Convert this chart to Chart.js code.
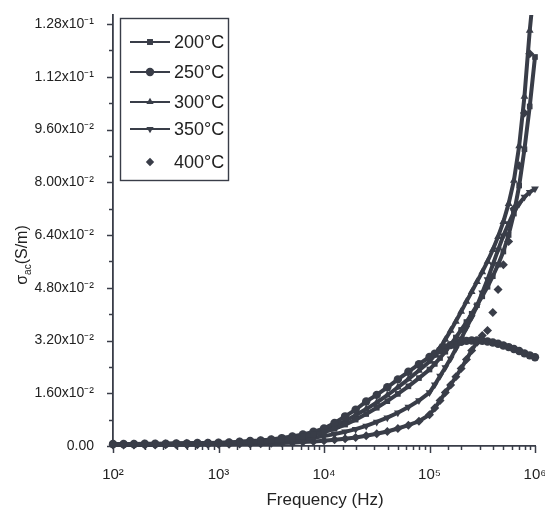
<!DOCTYPE html>
<html>
<head>
<meta charset="utf-8">
<script src="https://cdn.jsdelivr.net/npm/chart.js@4.4.1/dist/chart.umd.min.js"></script>
<style>
html,body{margin:0;padding:0;background:#fff;}
#wrap{width:545px;height:513px;}
</style>
</head>
<body>
<div id="wrap"><canvas id="c" width="545" height="513"></canvas></div>
<script>
// Frequency (Hz)
const freqs = [100,126,158,200,251,316,398,501,631,794,
  1000,1259,1585,1995,2512,3162,3981,5012,6310,7943,
  10000,12589,15849,19953,25119,31623,39811,50119,63096,79433,
  100000,112202,125893,141254,158489,177828,199526,223872,251189,281838,
  316228,354813,398107,446684,501187,562341,630957,707946,794328,891251,1000000];

// sigma_ac in units of 10^-3 S/m
const s200 = [0.5,0.5,0.5,0.5,0.6,0.6,0.6,0.7,0.7,0.8,
  0.8,0.9,1.0,1.2,1.4,1.6,1.9,2.3,2.8,3.4,
  4.2,5.2,6.5,8.0,9.7,11.6,13.6,15.8,18.1,20.6,
  23.2,24.9,26.7,28.6,30.7,32.9,35.2,37.6,40.1,42.7,
  45.4,48.3,51.5,55.0,59.0,64.0,70.5,79.0,90.0,103.0,118.0];
const s250 = [0.6,0.6,0.6,0.7,0.7,0.7,0.8,0.8,0.9,0.9,
  1.0,1.1,1.3,1.5,1.7,2.0,2.4,2.9,3.5,4.3,
  5.3,7.0,9.0,11.0,13.5,15.5,17.8,20.2,22.5,24.8,
  27.0,28.0,29.0,29.9,30.6,31.2,31.6,31.9,32.0,32.0,
  31.9,31.7,31.4,31.0,30.5,30.0,29.4,28.8,28.1,27.5,26.9];
const s300 = [0.5,0.5,0.6,0.6,0.6,0.7,0.7,0.8,0.8,0.9,
  0.9,1.0,1.2,1.4,1.6,1.9,2.2,2.7,3.3,4.0,
  4.9,6.1,7.6,9.3,11.2,13.2,15.4,17.8,20.3,22.9,
  25.6,27.6,29.8,32.3,35.0,37.8,40.8,43.8,46.8,49.8,
  52.8,56.0,59.5,63.5,68.0,73.5,80.5,91.0,106.0,126.0,142.0];
const s350 = [0.4,0.4,0.4,0.5,0.5,0.5,0.5,0.6,0.6,0.6,
  0.7,0.8,0.9,1.0,1.1,1.3,1.5,1.8,2.1,2.5,
  3.0,3.6,4.3,5.1,6.1,7.3,8.6,10.1,11.8,13.8,
  16.2,18.6,21.2,23.8,26.5,29.5,32.5,35.8,39.0,42.5,
  46.5,50.5,55.0,59.5,63.8,67.5,71.0,73.5,75.5,77.0,78.0];
const s400 = [0.3,0.3,0.3,0.3,0.3,0.4,0.4,0.4,0.4,0.5,
  0.5,0.5,0.6,0.6,0.7,0.8,0.9,1.0,1.2,1.4,
  1.6,1.9,2.2,2.6,3.1,3.7,4.4,5.3,6.3,7.5,
  9.5,11.5,13.8,16.2,18.5,21.0,23.5,26.2,29.0,31.5,
  33.5,35.0,40.5,47.5,55.0,62.0,72.0,85.0,101.0,119.0,134.0];

const seriesNames = ['200°C','250°C','300°C','350°C','400°C'];
const xTickLabels = ['10²','10³','10⁴','10⁵','10⁶'];
const yTickValues = [0,0.008,0.016,0.024,0.032,0.040,0.048,0.056,0.064,0.072,0.080,0.088,0.096,0.104,0.112,0.120,0.128];
const yTickLabels = ['0.00','1.60x10⁻²','3.20x10⁻²','4.80x10⁻²','6.40x10⁻²','8.00x10⁻²','9.60x10⁻²','1.12x10⁻¹','1.28x10⁻¹'];
const xTitle = 'Frequency (Hz)';

const INK = '#393d48';
const TXT = '#222222';
const FONT = '"Liberation Sans Narrow", "Liberation Sans", Arial, sans-serif';

const styles = [
  {pointStyle:'rect', rotation:0, line:true, r:4},
  {pointStyle:'circle', rotation:0, line:true, r:4.2},
  {pointStyle:'triangle', rotation:0, line:true, r:4.5},
  {pointStyle:'triangle', rotation:180, line:true, r:4.5},
  {pointStyle:'rectRot', rotation:0, line:false, r:4.5}
];
const allSeries = [s200,s250,s300,s350,s400];

const datasets = allSeries.map((s,k)=>({
  label: seriesNames[k],
  data: freqs.map((f,i)=>({x:f, y:s[i]/1000})),
  borderColor: INK,
  backgroundColor: INK,
  borderWidth: 4,
  showLine: true,
  segment: styles[k].line ? undefined : {
    borderColor: (c) => c.p0DataIndex < 40 ? INK : 'rgba(0,0,0,0)'
  },
  pointStyle: styles[k].pointStyle,
  rotation: styles[k].rotation,
  pointRadius: styles[k].r,
  pointBorderWidth: 0,
  tension: 0,
  clip: {left: 6, top: 0, right: 6, bottom: 6}
}));

function isPow10(v){
  const e = Math.round(Math.log10(v));
  return Math.abs(v - Math.pow(10,e)) < 1e-6*v;
}

const decor = {
  id:'decor',
  beforeDraw(chart){
    const ctx = chart.ctx;
    ctx.save(); ctx.fillStyle='#fff'; ctx.fillRect(0,0,chart.width,chart.height); ctx.restore();
  },
  afterDraw(chart){
    const ctx = chart.ctx;
    const xs = chart.scales.x, ys = chart.scales.y;
    const a = chart.chartArea;
    ctx.save();
    ctx.strokeStyle = INK; ctx.lineWidth = 1.5;
    // y ticks
    ys.ticks.forEach((t,i)=>{
      const py = Math.round(ys.getPixelForValue(t.value))+0.5;
      const len = i%2===0 ? 6 : 4;
      ctx.beginPath(); ctx.moveTo(a.left-len, py); ctx.lineTo(a.left, py); ctx.stroke();
    });
    // x ticks
    xs.ticks.forEach(t=>{
      if (t.value < xs.min-1e-9 || t.value > xs.max*1.000001) return;
      const px = Math.round(xs.getPixelForValue(t.value))+0.5;
      const len = isPow10(t.value) ? 7 : 4;
      ctx.beginPath(); ctx.moveTo(px, a.bottom); ctx.lineTo(px, a.bottom+len); ctx.stroke();
    });
    // x title
    ctx.fillStyle = TXT;
    ctx.font = '17px ' + FONT;
    ctx.textAlign = 'center'; ctx.textBaseline = 'middle';
    ctx.fillText(xTitle, 325, 500);
    // y title with subscript
    ctx.translate(23, 255);
    ctx.rotate(-Math.PI/2);
    const big = '16px ' + FONT, small = '10px ' + FONT;
    ctx.font = big; const w1 = ctx.measureText('σ').width;
    ctx.font = small; const w2 = ctx.measureText('ac').width;
    ctx.font = big; const w3 = ctx.measureText('(S/m)').width;
    let x0 = -(w1+w2+w3)/2;
    ctx.textAlign='left';
    ctx.font = big; ctx.fillText('σ', x0, 0);
    ctx.font = small; ctx.fillText('ac', x0+w1, 5);
    ctx.font = big; ctx.fillText('(S/m)', x0+w1+w2, 0);
    ctx.restore();

    // legend
    ctx.save();
    ctx.strokeStyle = INK; ctx.lineWidth = 1.4;
    ctx.strokeRect(120.5, 18.5, 108, 162);
    const ly = [42,72,102,129,162];
    ctx.font = '18px ' + FONT;
    ctx.textAlign='left'; ctx.textBaseline='middle';
    seriesNames.forEach((n,k)=>{
      ctx.strokeStyle = INK; ctx.fillStyle = INK; ctx.lineWidth = 1.8;
      if (styles[k].line){
        ctx.beginPath(); ctx.moveTo(130, ly[k]); ctx.lineTo(170, ly[k]); ctx.stroke();
      }
      Chart.helpers.drawPoint(ctx, {pointStyle: styles[k].pointStyle, rotation: styles[k].rotation, radius: 4.2, borderWidth: 0}, 150, ly[k]);
      ctx.fillStyle = TXT;
      ctx.fillText(n, 174, ly[k]+1);
    });
    ctx.restore();
  }
};

new Chart(document.getElementById('c'), {
  type: 'scatter',
  data: { datasets },
  options: {
    responsive: false,
    animation: false,
    layout: { padding: { left: 0, right: 0, top: 15, bottom: 0 } },
    plugins: { legend: { display: false }, tooltip: { enabled: false } },
    scales: {
      x: {
        type: 'logarithmic', min: 100, max: 1000000, position: 'bottom',
        grid: { display: false },
        border: { display: true, color: INK, width: 1.8 },
        ticks: {
          autoSkip: false, maxRotation: 0, padding: 12, color: TXT,
          font: { family: FONT, size: 15 },
          callback: (v) => isPow10(v) ? xTickLabels[Math.round(Math.log10(v))-2] : ''
        },
        afterFit: (s) => { s.height = 67; s.paddingRight = 10; s.paddingLeft = 0; }
      },
      y: {
        min: 0, max: 0.13073,
        grid: { display: false },
        border: { display: true, color: INK, width: 1.8 },
        afterBuildTicks: (s) => { s.ticks = yTickValues.map(v => ({value: v})); },
        ticks: {
          padding: 11, color: TXT,
          font: { family: FONT, size: 14 },
          callback: (v, i) => (i % 2 === 0) ? yTickLabels[i/2] : ''
        },
        afterFit: (s) => { s.width = 113; s.paddingTop = 0; s.paddingBottom = 0; }
      }
    }
  },
  plugins: [decor]
});
</script>
</body>
</html>
